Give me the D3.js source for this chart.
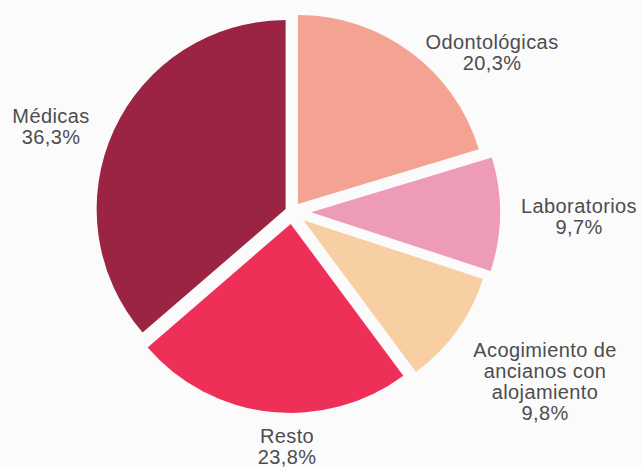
<!DOCTYPE html>
<html>
<head>
<meta charset="utf-8">
<script src="https://cdn.jsdelivr.net/npm/d3@7"></script>
<style>
  html, body { margin: 0; padding: 0; background: #fbfbfc; }
  svg { display: block; }
  .label { font-family: "Liberation Sans", Arial, sans-serif; font-size: 20px; fill: #4d4d4d; letter-spacing: 0.4px; }
</style>
</head>
<body>
<script>
const width = 641
const height = 468

// data
const categories = ['Odontológicas', 'Laboratorios', 'Acogimiento de ancianos con alojamiento', 'Resto', 'Médicas']
const values = [20.3, 9.7, 9.8, 23.8, 36.3]
const labelLines = [
  ['Odontológicas'],
  ['Laboratorios'],
  ['Acogimiento de', 'ancianos con', 'alojamiento'],
  ['Resto'],
  ['Médicas']
]
const colors = ['#f4a291', '#ee9bb9', '#f8cea3', '#ee3059', '#9b2443']

// how far each slice is pulled out of the centre
const explode = [10, 19, 14, 12, 7]
// label anchor points (x centre, first baseline)
const labelPos = [[492, 49], [579, 213], [545, 357], [287, 443], [51, 123]]

const cx = 292
const cy = 212
const radius = 189
const lineH = 21

const locale = d3.formatLocale({ decimal: ',', thousands: '.', grouping: [3] })
const pct = locale.format('.1f')

const svg = d3.select('body')
  .append('svg')
  .attr('width', width)
  .attr('height', height)

const pie = d3.pie()
  .sort(null)
  .value(d => d)

const arc = d3.arc()
  .innerRadius(0)
  .outerRadius(radius)

const arcs = pie(values)

const g = svg.append('g')
  .attr('transform', `translate(${cx}, ${cy})`)

g.selectAll('.slice')
  .data(arcs)
  .join('path')
  .attr('class', 'slice')
  .attr('d', arc)
  .attr('fill', (d, i) => colors[i])
  .attr('transform', (d, i) => {
    const mid = (d.startAngle + d.endAngle) / 2
    return `translate(${Math.sin(mid) * explode[i]}, ${-Math.cos(mid) * explode[i]})`
  })

// labels
const labels = svg.selectAll('.label')
  .data(arcs)
  .join('text')
  .attr('class', 'label')
  .attr('text-anchor', 'middle')
  .attr('x', (d, i) => labelPos[i][0])
  .attr('y', (d, i) => labelPos[i][1])

labels.each(function (d, i) {
  const t = d3.select(this)
  const lines = labelLines[i].concat([pct(values[i]) + '%'])
  lines.forEach((line, j) => {
    t.append('tspan')
      .attr('x', labelPos[i][0])
      .attr('y', labelPos[i][1] + j * lineH)
      .text(line)
  })
})
</script>
</body>
</html>
